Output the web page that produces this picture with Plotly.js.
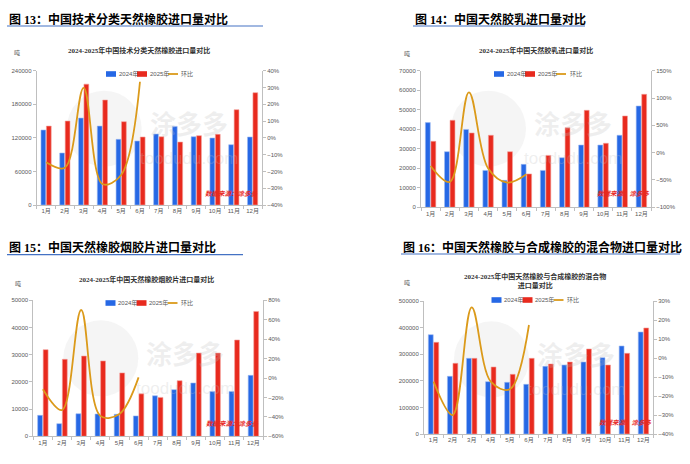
<!DOCTYPE html>
<html>
<head>
<meta charset="utf-8">
<script src="https://cdn.plot.ly/plotly-3.0.1.min.js"></script>
<style>html,body{margin:0;padding:0;background:#fff;}#chart{width:690px;height:464px;}</style>
</head>
<body>
<div id="chart"></div>
<script>
// ---------- data ----------
const months = ['1月','2月','3月','4月','5月','6月','7月','8月','9月','10月','11月','12月'];
const momMonths = ['1月','2月','3月','4月','5月','6月'];

// 图13 技术分类天然橡胶
const tsr2024 = [134000, 92900, 155400, 141000, 117300, 114300, 126800, 140500, 122000, 119700, 107800, 121500];
const tsr2025 = [141000, 150000, 216000, 187600, 148900, 121500, 122000, 112500, 123900, 126300, 170300, 200700];
const tsrMom  = [-14.6, -17.8, 29.8, -27.5, -22.1, 33.4];

// 图14 天然胶乳
const latex2024 = [43400, 28500, 39900, 18900, 13800, 22000, 18900, 25400, 31900, 31900, 36900, 51900];
const latex2025 = [33800, 44600, 38100, 36900, 28500, 17100, 26600, 40800, 49700, 32800, 46800, 57900];
const latexMom  = [-24.3, -53.6, 110.5, -28.6, -54.9, -39.6];

// 图15 烟胶片
const rss2024 = [7700, 4650, 8300, 8200, 8100, 7500, 14900, 17150, 19600, 16500, 16500, 22400];
const rss2025 = [31850, 28300, 29500, 27700, 23300, 15600, 14300, 20450, 30600, 30600, 35400, 45900];
const rssMom  = [-11.6, -33.0, 70.0, -39.0, -37.0, 0.7];

// 图16 天然橡胶与合成橡胶的混合物
const mix2024 = [374300, 217300, 285100, 197200, 194700, 187100, 255000, 260000, 271300, 287600, 331600, 384300];
const mix2025 = [345400, 266300, 285100, 252500, 224800, 285100, 263800, 271300, 320300, 260000, 304000, 399400];
const mixMom  = [-12.4, -30.0, 26.8, -12.4, -16.4, 17.5];

const seriesNames = ['2024年', '2025年', '环比'];
const headers = ['图 13：中国技术分类天然橡胶进口量对比', '图 14：中国天然胶乳进口量对比',
                 '图 15：中国天然橡胶烟胶片进口量对比', '图 16：中国天然橡胶与合成橡胶的混合物进口量对比'];
const chartTitles = ['2024-2025年中国技术分类天然橡胶进口量对比', '2024-2025年中国天然胶乳进口量对比',
                     '2024-2025年中国天然橡胶烟胶片进口量对比', '2024-2025年中国天然橡胶与合成橡胶的混合物<br>进口量对比'];
const unitLabel = '吨';
const sourceLabel = '数据来源：涂多多';

// ---------- styling / layout ----------
const W = 690, H = 464;
const px = x => x / W;
const py = y => 1 - y / H;
const BLUE = '#2668E5', RED = '#E82A1E', ORANGE = '#DB9A1A';
const tickFont = {family: 'Liberation Sans Narrow, Liberation Sans, Noto Sans CJK SC', size: 6, color: '#595959'};
const cjk = 'Liberation Serif, Noto Sans CJK SC';

const panels = [
  {b24: tsr2024, b25: tsr2025, mom: tsrMom, box: [36.7, 262, 70.7, 205], lrange: [0, 240000], ldt: 60000, rrange: [-40, 40], rdt: 10,
   header: [7, 19.5, 7, 263, 26], title: [139.3, 50.5], leg: [106, 74], unit: [17.3, 52.5], src: [231.5, 193]},
  {b24: latex2024, b25: latex2025, mom: latexMom, box: [421, 651, 70.7, 207.3], lrange: [0, 70000], ldt: 10000, rrange: [-100, 150], rdt: 50,
   header: [413, 19.5, 413, 585, 26], title: [535.8, 50.7], leg: [494, 74], unit: [407, 53], src: [623, 193.3]},
  {b24: rss2024, b25: rss2025, mom: rssMom, box: [33.3, 263, 300.3, 436.3], lrange: [0, 50000], ldt: 10000, rrange: [-60, 80], rdt: 20,
   header: [7, 248, 7, 243, 254.7], title: [146.3, 279.7], leg: [105.5, 303], unit: [18.3, 283], src: [232.3, 422.7]},
  {b24: mix2024, b25: mix2025, mom: mixMom, box: [424, 653, 301.3, 434], lrange: [0, 500000], ldt: 100000, rrange: [-40, 30], rdt: 10,
   header: [401, 248, 401, 680, 254], title: [535, 281.3], leg: [491.5, 300], unit: [406.7, 282], src: [625, 422]}
];

const data = [];
const layout = {
  width: W, height: H, margin: {l: 0, r: 0, t: 0, b: 0},
  paper_bgcolor: '#ffffff', plot_bgcolor: 'rgba(0,0,0,0)',
  showlegend: false, barmode: 'group', bargap: 0.42, bargroupgap: 0.12,
  font: {family: cjk},
  shapes: [], annotations: []
};

panels.forEach((p, i) => {
  const xa = i === 0 ? 'x' : 'x' + (i + 1);
  const yl = 'y' + (2 * i + 1 === 1 ? '' : 2 * i + 1);
  const yr = 'y' + (2 * i + 2);
  const xKey = i === 0 ? 'xaxis' : 'xaxis' + (i + 1);
  const ylKey = 'yaxis' + (2 * i + 1 === 1 ? '' : 2 * i + 1);
  const yrKey = 'yaxis' + (2 * i + 2);
  const [x0, x1, yt, yb] = p.box;

  layout[xKey] = {domain: [px(x0), px(x1)], anchor: yl, type: 'category', categoryorder: 'array', categoryarray: months,
    showline: true, linecolor: '#BFBFBF', linewidth: 1, ticks: 'outside', tickson: 'boundaries', ticklen: 3,
    tickcolor: '#BFBFBF', tickfont: tickFont, tickangle: 0, showgrid: false, zeroline: false, fixedrange: true};
  layout[ylKey] = {domain: [py(yb), py(yt)], anchor: xa, range: p.lrange, dtick: p.ldt, tick0: 0,
    showline: true, linecolor: '#BFBFBF', linewidth: 1, ticks: 'outside', ticklen: 3, tickcolor: '#BFBFBF',
    tickfont: tickFont, showgrid: false, zeroline: false, tickformat: 'd', fixedrange: true};
  layout[yrKey] = {overlaying: yl, side: 'right', anchor: xa, range: p.rrange, dtick: p.rdt, tick0: 0, ticksuffix: '%',
    showline: true, linecolor: '#BFBFBF', linewidth: 1, ticks: 'outside', ticklen: 3, tickcolor: '#BFBFBF',
    tickfont: tickFont, showgrid: false, zeroline: false, fixedrange: true};

  data.push({type: 'bar', name: seriesNames[0], x: months, y: p.b24, xaxis: xa, yaxis: yl,
    marker: {color: BLUE, line: {color: '#9DBBF2', width: 0.6}}, hoverinfo: 'skip'});
  data.push({type: 'bar', name: seriesNames[1], x: months, y: p.b25, xaxis: xa, yaxis: yl,
    marker: {color: RED, line: {color: '#F4A09A', width: 0.6}}, hoverinfo: 'skip'});
  data.push({type: 'scatter', mode: 'lines', name: seriesNames[2], x: momMonths, y: p.mom, xaxis: xa, yaxis: yr,
    line: {color: ORANGE, width: 1.8, shape: 'spline', smoothing: 1}, hoverinfo: 'skip'});

  // header + underline
  const [hx, hy, ux0, ux1, uy] = p.header;
  layout.annotations.push({text: '<b>' + headers[i] + '</b>', xref: 'paper', yref: 'paper', x: px(hx), y: py(hy),
    xanchor: 'left', yanchor: 'middle', showarrow: false, font: {family: cjk, size: 12, color: '#000'}});
  layout.shapes.push({type: 'line', xref: 'paper', yref: 'paper', x0: px(ux0), x1: px(ux1), y0: py(uy), y1: py(uy),
    line: {color: '#4472C4', width: 1.2}});

  // chart title
  layout.annotations.push({text: '<b>' + chartTitles[i] + '</b>', xref: 'paper', yref: 'paper', x: px(p.title[0]), y: py(p.title[1]),
    xanchor: 'center', yanchor: 'middle', showarrow: false, font: {family: cjk, size: 7, color: '#333'}});

  // unit
  layout.annotations.push({text: unitLabel, xref: 'paper', yref: 'paper', x: px(p.unit[0]), y: py(p.unit[1]),
    xanchor: 'center', yanchor: 'middle', showarrow: false, font: {family: 'Noto Sans CJK SC', size: 6, color: '#595959'}});

  // source
  layout.annotations.push({text: '<b><i>' + sourceLabel + '</i></b>', xref: 'paper', yref: 'paper', x: px(p.src[0]), y: py(p.src[1]),
    xanchor: 'center', yanchor: 'middle', showarrow: false, font: {family: 'Noto Sans CJK SC', size: 6.5, color: '#E8281E'}});

  // watermark
  layout.shapes.push({type: 'circle', xref: 'paper', yref: 'paper', layer: 'below',
    x0: px(x0 + 30), x1: px(x0 + 105), y0: py(yt + 96), y1: py(yt + 20),
    fillcolor: 'rgba(225,225,225,0.35)', line: {width: 0}});
  layout.annotations.push({text: '<b>涂多多</b>', xref: 'paper', yref: 'paper', x: px(x0 + 152), y: py(yt + 52),
    xanchor: 'center', yanchor: 'middle', showarrow: false, font: {family: 'Noto Sans CJK SC', size: 26, color: 'rgba(190,190,190,0.25)'}});
  layout.annotations.push({text: 'toodudu.com', xref: 'paper', yref: 'paper', x: px(x0 + 152), y: py(yt + 88),
    xanchor: 'center', yanchor: 'middle', showarrow: false, font: {family: 'Liberation Sans', size: 17, color: 'rgba(190,190,190,0.25)'}});

  // legend (drawn)
  const [lx, ly] = p.leg;
  const legFont = {family: 'Liberation Sans Narrow, Liberation Sans, Noto Sans CJK SC', size: 6, color: '#595959'};
  layout.shapes.push({type: 'rect', xref: 'paper', yref: 'paper', x0: px(lx), x1: px(lx + 10), y0: py(ly + 2.8), y1: py(ly - 2.8),
    fillcolor: BLUE, line: {width: 0}});
  layout.shapes.push({type: 'rect', xref: 'paper', yref: 'paper', x0: px(lx + 31), x1: px(lx + 41), y0: py(ly + 2.8), y1: py(ly - 2.8),
    fillcolor: RED, line: {width: 0}});
  layout.shapes.push({type: 'line', xref: 'paper', yref: 'paper', x0: px(lx + 62), x1: px(lx + 72), y0: py(ly), y1: py(ly),
    line: {color: ORANGE, width: 1.8}});
  [[seriesNames[0], 10.5], [seriesNames[1], 41.5], [seriesNames[2], 73.5]].forEach(([t, dx]) => {
    layout.annotations.push({text: t, xref: 'paper', yref: 'paper', x: px(lx + dx), y: py(ly), xanchor: 'left', yanchor: 'middle',
      showarrow: false, font: legFont});
  });
});

Plotly.newPlot('chart', data, layout, {displayModeBar: false, staticPlot: true});
</script>
</body>
</html>
